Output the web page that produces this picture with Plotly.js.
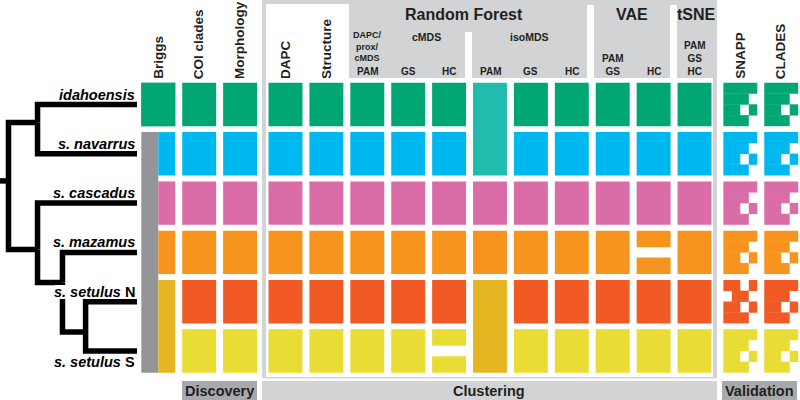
<!DOCTYPE html>
<html><head><meta charset="utf-8">
<script src="https://cdn.plot.ly/plotly-3.0.1.min.js"></script>
<style>html,body{margin:0;padding:0;background:#fff}#chart{width:800px;height:400px}</style>
</head><body><div id="chart"></div>
<script>
// ================= DATA =================
const species = ['idahoensis','s. navarrus','s. cascadus','s. mazamus','s. setulus N','s. setulus S'];
const speciesLabels = ['<b><i>idahoensis</i></b>','<b><i>s. navarrus</i></b>','<b><i>s. cascadus</i></b>',
  '<b><i>s. mazamus</i></b>','<b><i>s. setulus</i> N</b>','<b><i>s. setulus</i> S</b>'];

// columns (methods)
const columns = ['Briggs','COI clades','Morphology','DAPC','Structure',
  'RF DAPC/prox/cMDS PAM','RF cMDS GS','RF cMDS HC','RF isoMDS PAM','RF isoMDS GS','RF isoMDS HC',
  'VAE PAM GS','VAE HC','tSNE PAM GS HC','SNAPP','CLADES'];
const columnHeaders = ['Briggs','COI clades','Morphology','DAPC','Structure',
  'PAM','GS','HC','PAM','GS','HC','PAM<br>GS','HC','PAM<br>GS<br>HC','SNAPP','CLADES'];
const headerVertical = [true,true,true,true,true,false,false,false,false,false,false,false,false,false,true,true];
const groupLabels = ['Discovery','Clustering','Validation'];

// cluster assignments per row (species) for each column; [a,b] = species split into two clusters
const briggsSpecies   = ['ida','set','set','set','set','set'];
const briggsSubspecies= ['ida','nav','cas','maz','setNS','setNS'];
const coiClades       = ['ida','nav','cas','maz','setN','setS'];
const morphology      = ['ida','nav','cas','maz','setN','setS'];
const dapc            = ['ida','nav','cas','maz','setN','setS'];
const structure       = ['ida','nav','cas','maz','setN','setS'];
const rfDapcPam       = ['ida','nav','cas','maz','setN','setS'];
const rfCmdsGs        = ['ida','nav','cas','maz','setN','setS'];
const rfCmdsHc        = ['ida','nav','cas','maz','setN',['setS','setS']];
const rfIsoPam        = ['idanav','idanav','cas','maz','setNS','setNS'];
const rfIsoGs         = ['ida','nav','cas','maz','setN','setS'];
const rfIsoHc         = ['ida','nav','cas','maz','setN','setS'];
const vaePamGs        = ['ida','nav','cas','maz','setN','setS'];
const vaeHc           = ['ida','nav','cas',['maz','maz'],'setN','setS'];
const tsne            = ['ida','nav','cas','maz','setN','setS'];
// validation results (glyph type per species)
const snapp  = ['k','k','k','k','s','k'];
const clades = ['k','k','k','k','k','k'];
const glyphs = {
  k: [[1,1,1,1],[1,1,1,0],[1,1,0,1],[1,1,1,0]],
  s: [[1,1,0,1],[0,1,1,0],[1,1,0,1],[1,1,1,0]]
};
const speciesCluster = ['ida','nav','cas','maz','setN','setS'];

const clusterColors = {ida:'#00A673', nav:'#00B8F0', cas:'#DA6CA8', maz:'#F7941E', setN:'#F15A24',
  setS:'#E9DC35', setNS:'#E5B522', idanav:'#21BCAE', set:'#939598'};

// phylogeny
const treeNodes  = ['stem','root','A','B','C','D','idahoensis','s. navarrus','s. cascadus','s. mazamus','s. setulus N','s. setulus S'];
const treeParent = [null,'stem','root','root','B','C','A','A','B','C','D','D'];
const treeDepth  = [-0.4,0,1.13,1.13,2.1,3.0,5,5,5,5,5,5];
const treeRow    = [1.55,1.55,0.365,2.94,3.61,4.615,0,1,2,3,4,5];

// ================= DRAWING =================
const W=800,H=400;
const PX = x => x/W, PY = y => 1 - y/H;
const shapes = [];
function box(x0,y0,x1,y1,color,layer){
  shapes.push({type:'rect',xref:'paper',yref:'paper',x0:PX(x0),x1:PX(x1),y0:PY(y1),y1:PY(y0),
    fillcolor:color,line:{width:0},layer:layer||'below'});
}
const lightGray='#D1D3D4', midGray='#A7A9AC', ink='#231F20';
// panels
box(262,0,717,400,lightGray);
box(266,78,713,377,'#ffffff');
box(266,4,349,78,'#ffffff');
box(465,32,472,78,'#ffffff');
box(587,5,594,78,'#ffffff');
box(670,5,677,78,'#ffffff');
box(262,378.5,717,381,'#ffffff');
box(182,381,257,400,midGray);
box(722,381,797,400,midGray);

function colX(c){ return c + (c>=3?0.11:0) + (c>=14?0.12:0); }
const HW=0.415, HH=0.44, SPLIT=0.335;
function rect(x0,x1,y0,y1,color){
  shapes.push({type:'rect',xref:'x',yref:'y',x0:x0,x1:x1,y0:y0,y1:y1,fillcolor:color,line:{width:0},layer:'below'});
}
function drawColumn(assign, x0, x1){
  let r=0;
  while(r<assign.length){
    const a = assign[r];
    if(a===null){ r++; continue; }
    if(Array.isArray(a)){
      rect(x0,x1,r-HH,r-HH+SPLIT,clusterColors[a[0]]);
      rect(x0,x1,r+HH-SPLIT,r+HH,clusterColors[a[1]]);
      r++; continue;
    }
    let e=r;
    while(e+1<assign.length && assign[e+1]===a) e++;
    rect(x0,x1,r-HH,e+HH,clusterColors[a]);
    r=e+1;
  }
}
// Briggs: species level (left half) and subspecies level (right half); full width where they agree
drawColumn(briggsSpecies, colX(0)-HW, colX(0));
drawColumn(briggsSubspecies, colX(0), colX(0)+HW);
drawColumn(briggsSpecies.map((s,r)=> s===briggsSubspecies[r] ? s : null), colX(0)-HW, colX(0)+HW);
const assignCols = [coiClades,morphology,dapc,structure,rfDapcPam,rfCmdsGs,rfCmdsHc,rfIsoPam,rfIsoGs,rfIsoHc,vaePamGs,vaeHc,tsne];
assignCols.forEach((a,i)=>{ const x=colX(i+1); drawColumn(a,x-HW,x+HW); });
// validation glyphs
[snapp,clades].forEach((g,k)=>{
  const xc = colX(14+k);
  g.forEach((t,r)=>{
    const m = glyphs[t], color = clusterColors[speciesCluster[r]];
    const cw = 2*HW/4, rh = 2*HH/4;
    m.forEach((row,i)=>{
      let j=0;
      while(j<4){
        if(!row[j]){ j++; continue; }
        let e=j; while(e+1<4 && row[e+1]) e++;
        const y0 = r-HH+i*rh, y1 = y0+rh;
        rect(xc-HW+j*cw, xc-HW+(e+1)*cw, y0-(i>0?0.004:0), y1+(i<3?0.004:0), color);
        j=e+1;
      }
    });
  });
});

// tree
const tx=[], ty=[];
treeNodes.forEach((n,i)=>{
  const p = treeParent[i]; if(p===null) return;
  const j = treeNodes.indexOf(p);
  tx.push(treeDepth[j],treeDepth[j],treeDepth[i],null);
  ty.push(treeRow[j],treeRow[i],treeRow[i],null);
});
const traces = [{type:'scatter',mode:'lines',x:tx,y:ty,xaxis:'x2',yaxis:'y',
  line:{color:'#000',width:5.5},hoverinfo:'skip',showlegend:false,connectgaps:false}];
// knock-out behind the "s. setulus N" label, as in the original
box(55,285,70,299,'#ffffff','above');

// annotations
const ann = [];
species.forEach((s,r)=>{
  ann.push({xref:'x2',yref:'y',x:5,y:r,xanchor:'right',yanchor:'middle',yshift:(r===5?-11:10),
    text:speciesLabels[r],showarrow:false,font:{size:14.5,color:'#000'}});
});
columnHeaders.forEach((t,c)=>{
  if(headerVertical[c]){
    ann.push({xref:'x',yref:'paper',x:colX(c),y:PY(80),xanchor:'center',yanchor:'bottom',textangle:-90,
      text:'<b>'+t+'</b>',showarrow:false,font:{size:13.5,color:ink},borderpad:0});
  } else {
    ann.push({xref:'x',yref:'paper',x:colX(c),y:PY(79),xanchor:'center',yanchor:'bottom',
      text:'<b>'+t+'</b>',showarrow:false,font:{size:10,color:ink}});
  }
});
function txt(x,y,t,size,anchorY){
  ann.push({xref:'paper',yref:'paper',x:PX(x),y:PY(y),xanchor:'center',yanchor:anchorY||'middle',
    text:'<b>'+t+'</b>',showarrow:false,font:{size:size,color:ink}});
}
ann.push({xref:'x',yref:'paper',x:colX(5),y:PY(46),xanchor:'center',yanchor:'middle',
  text:'<b>DAPC/<br>prox/<br>cMDS</b>',showarrow:false,font:{size:9,color:ink}});
txt(464,15,'Random Forest',16);
txt(631.5,15,'VAE',16);
txt(696,15,'tSNE',16);
txt(427,37,'cMDS',10.5);
txt(529,37,'isoMDS',10.5);
txt(219.5,391,groupLabels[0],14.5);
txt(489.5,391,groupLabels[1],14.5);
txt(759.5,391,groupLabels[2],14.5);

const layout = {
  width:W,height:H,margin:{l:0,r:0,t:0,b:0},
  paper_bgcolor:'#ffffff',plot_bgcolor:'rgba(0,0,0,0)',
  font:{family:'Liberation Sans, Arial, sans-serif',color:ink},
  showlegend:false,
  xaxis:{range:[-3.870,15.689],visible:false,fixedrange:true},
  xaxis2:{range:[-0.3307,30.798],overlaying:'x',visible:false,fixedrange:true},
  yaxis:{range:[5.994,-2.1197],visible:false,fixedrange:true},
  shapes:shapes, annotations:ann
};
Plotly.newPlot('chart',traces,layout,{staticPlot:true,displayModeBar:false});
</script></body></html>
